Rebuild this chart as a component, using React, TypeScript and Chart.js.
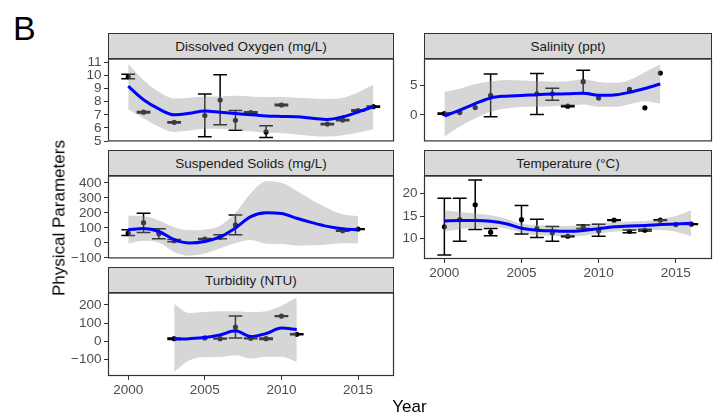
import React, { useEffect, useRef } from "react";
import { Chart, registerables } from "chart.js";

Chart.register(...registerables);

const FONT = '"Liberation Sans", Arial, Helvetica, sans-serif';

// ---------- shared x axis ----------
const X_TICKS = [2000, 2005, 2010, 2015];

// ---------- Dissolved Oxygen (mg/L) ----------
const doYears = [2000, 2001, 2003, 2005, 2006, 2007, 2008, 2009, 2010, 2013, 2014, 2015, 2016];
const doMean = [9.9, 7.2, 6.43, 6.95, 8.13, 6.58, 7.18, 5.7, 7.75, 6.3, 6.6, 7.33, 7.62];
const doLow = [9.75, 7.15, 6.38, 5.33, 6.25, 5.83, 7.12, 5.28, 7.7, 6.25, 6.55, 7.28, 7.57];
const doHigh = [10.08, 7.25, 6.48, 8.58, 10.05, 7.33, 7.24, 6.18, 7.8, 6.35, 6.65, 7.38, 7.67];
const doFitYears = [2000, 2001, 2002, 2003, 2004, 2005, 2006, 2007, 2008, 2009, 2010, 2011, 2012, 2013, 2014, 2015, 2016];
const doFit = [9.18, 8.15, 7.45, 7.0, 7.12, 7.3, 7.2, 7.1, 7.0, 6.92, 6.88, 6.85, 6.75, 6.65, 6.85, 7.22, 7.62];
const doUpper = [10.88, 9.63, 8.75, 8.25, 8.3, 8.4, 8.4, 8.45, 8.4, 8.35, 8.35, 8.3, 8.25, 8.2, 8.3, 8.7, 9.3];
const doLower = [7.4, 6.75, 6.1, 5.7, 5.8, 5.95, 5.95, 5.85, 5.75, 5.65, 5.6, 5.5, 5.4, 5.35, 5.45, 5.65, 5.9];
const doTicks = [5, 6, 7, 8, 9, 10, 11];

// ---------- Salinity (ppt) ----------
const salYears = [2000, 2001, 2002, 2003, 2006, 2007, 2008, 2009, 2010, 2012, 2013, 2014];
const salMean = [0.22, 0.38, 1.22, 3.28, 3.55, 3.55, 1.45, 5.6, 2.83, 4.28, 1.17, 7.05];
const salLow = [0.1, null, null, -0.33, 0.05, 2.45, 1.35, 3.67, null, null, null, null];
const salHigh = [0.3, null, null, 6.9, 7.0, 4.5, 1.55, 7.55, null, null, null, null];
const salFitYears = [2000, 2001, 2002, 2003, 2004, 2005, 2006, 2007, 2008, 2009, 2010, 2011, 2012, 2013, 2014];
const salFit = [-0.2, 0.8, 1.9, 2.85, 3.15, 3.25, 3.4, 3.5, 3.55, 3.65, 3.3, 3.35, 3.8, 4.45, 5.2];
const salUpper = [3.85, 4.4, 5.2, 5.65, 5.9, 5.8, 5.7, 5.6, 5.65, 6.0, 5.55, 5.4, 5.9, 7.2, 8.55];
const salLower = [-3.7, -2.0, -0.6, 0.5, 1.05, 1.3, 1.4, 1.45, 1.55, 1.75, 1.35, 1.35, 1.8, 2.3, 1.9];
const salTicks = [0, 5];

// ---------- Suspended Solids (mg/L) ----------
const ssYears = [2000, 2001, 2002, 2003, 2005, 2006, 2007, 2014, 2015];
const ssMean = [65, 135, 61, 15, 26, 37, 120, 81, 92];
const ssLow = [50, 70, 28, 8, 22, 28, 55, 78, 89];
const ssHigh = [88, 197, 94, 22, 30, 54, 186, 84, 95];
const ssFitYears = [2000, 2001, 2002, 2003, 2004, 2005, 2006, 2007, 2008, 2009, 2010, 2011, 2012, 2013, 2014, 2015];
const ssFit = [88, 96, 76, 22, 0, 10, 40, 100, 175, 200, 196, 164, 135, 110, 94, 87];
const ssUpper = [180, 178, 150, 105, 85, 90, 115, 200, 330, 410, 400, 345, 285, 230, 190, 178];
const ssLower = [-5, 14, 2, -60, -85, -70, -35, 0, 20, -5, -8, -17, -15, -10, -2, -4];
const ssTicks = [-100, 0, 100, 200, 300, 400];

// ---------- Temperature (°C) ----------
const tYears = [2000, 2001, 2002, 2003, 2005, 2006, 2007, 2008, 2009, 2010, 2011, 2012, 2013, 2014, 2015, 2016];
const tMean = [12.6, 14.2, 17.55, 11.4, 14.2, 12.2, 11.3, 10.5, 12.6, 11.7, 14.1, 11.6, 11.85, 14.1, 13.1, 13.2];
const tLow = [6.3, 9.4, 12.0, 10.6, 11.0, 10.2, 9.4, 10.4, 12.2, 10.5, 14.0, 11.3, 11.65, 14.0, null, 13.1];
const tHigh = [19.0, 19.0, 23.1, 12.2, 17.4, 14.3, 12.7, 10.6, 13.0, 13.2, 14.2, 11.9, 12.05, 14.2, null, 13.3];
const tFitYears = [2000, 2001, 2002, 2003, 2004, 2005, 2006, 2007, 2008, 2009, 2010, 2011, 2012, 2013, 2014, 2015, 2016];
const tFit = [13.9, 14.0, 14.0, 13.85, 13.3, 12.3, 11.85, 11.7, 11.6, 11.8, 12.2, 12.6, 12.8, 12.9, 13.1, 13.25, 13.4];
const tUpper = [16.3, 15.9, 15.6, 15.2, 14.4, 13.3, 13.0, 12.8, 12.8, 13.0, 13.3, 13.7, 13.8, 13.9, 14.3, 15.0, 16.3];
const tLower = [11.5, 12.1, 12.4, 12.5, 12.2, 11.3, 10.7, 10.6, 10.4, 10.6, 11.1, 11.5, 11.8, 11.9, 11.9, 11.5, 10.5];
const tTicks = [10, 15, 20];

// ---------- Turbidity (NTU) ----------
const tuYears = [2003, 2005, 2006, 2007, 2008, 2009, 2010, 2011];
const tuMean = [14, 18, 14, 78, 16, 14, 138, 38];
const tuLow = [10, null, 12, 18, 14, 10, 136, 35];
const tuHigh = [18, null, 16, 138, 18, 18, 140, 41];
const tuFitYears = [2003, 2004, 2005, 2006, 2007, 2008, 2009, 2010, 2011];
const tuFit = [12, 14, 20, 35, 57, 26, 42, 72, 64];
const tuUpper = [205, 155, 160, 165, 165, 160, 165, 195, 240];
const tuLower = [-168, -104, -86, -86, -77, -95, -85, -85, -113];
const tuTicks = [-100, 0, 100, 200];

// ---------- layout ----------
const X_MIN = 1998.68;
const X_MAX = 2017.35;
const COLS = [
  { left: 108, width: 286 },
  { left: 424, width: 288 },
];
const ROW_TOPS = [58, 175, 292];
const PANEL_H = 84;
const STRIP_H = 26;
const Y_AXIS_W = 60;
const CAP = 0.45;

type PanelDef = {
  title: string;
  col: number;
  row: number;
  years: number[];
  mean: number[];
  low: (number | null)[];
  high: (number | null)[];
  fitYears: number[];
  fit: number[];
  upper: number[];
  lower: number[];
  yMin: number;
  yMax: number;
  yTicks: number[];
  showX: boolean;
};

const PANELS: PanelDef[] = [
  { title: "Dissolved Oxygen (mg/L)", col: 0, row: 0, years: doYears, mean: doMean, low: doLow, high: doHigh, fitYears: doFitYears, fit: doFit, upper: doUpper, lower: doLower, yMin: 4.98, yMax: 11.28, yTicks: doTicks, showX: false },
  { title: "Salinity (ppt)", col: 1, row: 0, years: salYears, mean: salMean, low: salLow, high: salHigh, fitYears: salFitYears, fit: salFit, upper: salUpper, lower: salLower, yMin: -4.5, yMax: 9.5, yTicks: salTicks, showX: false },
  { title: "Suspended Solids (mg/L)", col: 0, row: 1, years: ssYears, mean: ssMean, low: ssLow, high: ssHigh, fitYears: ssFitYears, fit: ssFit, upper: ssUpper, lower: ssLower, yMin: -103, yMax: 448, yTicks: ssTicks, showX: false },
  { title: "Temperature (°C)", col: 1, row: 1, years: tYears, mean: tMean, low: tLow, high: tHigh, fitYears: tFitYears, fit: tFit, upper: tUpper, lower: tLower, yMin: 5.4, yMax: 24.07, yTicks: tTicks, showX: true },
  { title: "Turbidity (NTU)", col: 0, row: 2, years: tuYears, mean: tuMean, low: tuLow, high: tuHigh, fitYears: tuFitYears, fit: tuFit, upper: tuUpper, lower: tuLower, yMin: -191, yMax: 267, yTicks: tuTicks, showX: true },
];

const fmt = (v: number) => (v < 0 ? "\u2212" + Math.abs(v) : String(v));

function makePlugin(def: PanelDef) {
  return {
    id: "panelDecor",
    beforeDatasetDraw(chart: any, args: any) {
      if (args.index !== 0) return;
      const xs = chart.scales.x;
      const ys = chart.scales.y;
      const ctx = chart.ctx;
      ctx.save();
      ctx.strokeStyle = "#000";
      ctx.lineWidth = 1.5;
      def.years.forEach((yr, i) => {
        const lo = def.low[i];
        const hi = def.high[i];
        if (lo == null || hi == null) return;
        const xc = xs.getPixelForValue(yr);
        const xl = xs.getPixelForValue(yr - CAP);
        const xr = xs.getPixelForValue(yr + CAP);
        const yl = ys.getPixelForValue(lo);
        const yh = ys.getPixelForValue(hi);
        ctx.beginPath();
        ctx.moveTo(xc, yh);
        ctx.lineTo(xc, yl);
        ctx.moveTo(xl, yh);
        ctx.lineTo(xr, yh);
        ctx.moveTo(xl, yl);
        ctx.lineTo(xr, yl);
        ctx.stroke();
      });
      ctx.restore();
    },
    afterDraw(chart: any) {
      const a = chart.chartArea;
      const ctx = chart.ctx;
      ctx.save();
      ctx.strokeStyle = "#333333";
      ctx.lineWidth = 1.2;
      ctx.strokeRect(a.left + 0.5, a.top + 0.5, a.right - a.left - 1, a.bottom - a.top - 1);
      ctx.restore();
    },
  };
}

function Panel({ def }: { def: PanelDef }) {
  const ref = useRef<HTMLCanvasElement>(null);
  const col = COLS[def.col];
  const top = ROW_TOPS[def.row];
  const padT = 10;
  const padR = 12;
  const padB = def.showX ? 0 : 10;
  const xAxisH = def.showX ? 30 : 0;
  const cw = col.width + Y_AXIS_W + padR;
  const ch = PANEL_H + padT + padB + xAxisH;

  useEffect(() => {
    const tickFont = { family: FONT, size: 13.5 };
    const chart = new Chart(ref.current as HTMLCanvasElement, {
      type: "scatter",
      data: {
        datasets: [
          {
            type: "scatter",
            data: def.years.map((x, i) => ({ x, y: def.mean[i] })),
            pointRadius: 2.6,
            pointBackgroundColor: "#000",
            pointBorderWidth: 0,
            order: 3,
          } as any,
          {
            type: "line",
            data: def.fitYears.map((x, i) => ({ x, y: def.upper[i] })),
            borderColor: "rgba(0,0,0,0)",
            borderWidth: 0,
            pointRadius: 0,
            backgroundColor: "rgba(153,153,153,0.4)",
            fill: "+1",
            cubicInterpolationMode: "monotone",
            order: 2,
          } as any,
          {
            type: "line",
            data: def.fitYears.map((x, i) => ({ x, y: def.lower[i] })),
            borderColor: "rgba(0,0,0,0)",
            borderWidth: 0,
            pointRadius: 0,
            fill: false,
            cubicInterpolationMode: "monotone",
            order: 2,
          } as any,
          {
            type: "line",
            data: def.fitYears.map((x, i) => ({ x, y: def.fit[i] })),
            borderColor: "#0000ff",
            borderWidth: 3,
            pointRadius: 0,
            fill: false,
            cubicInterpolationMode: "monotone",
            order: 1,
          } as any,
        ],
      },
      options: {
        responsive: false,
        animation: false,
        events: [],
        layout: { padding: { top: padT, right: padR, bottom: padB, left: 0 }, autoPadding: false } as any,
        plugins: {
          legend: { display: false },
          tooltip: { enabled: false },
          filler: { drawTime: "beforeDatasetDraw" } as any,
        },
        scales: {
          x: {
            type: "linear",
            display: def.showX,
            min: X_MIN,
            max: X_MAX,
            afterBuildTicks: (s: any) => {
              s.ticks = X_TICKS.map((v) => ({ value: v }));
            },
            afterFit: (s: any) => {
              s.height = xAxisH;
            },
            grid: { drawOnChartArea: false, drawTicks: true, tickLength: 4, color: "#333333", lineWidth: 1 },
            border: { display: false },
            ticks: { color: "#4d4d4d", font: tickFont, padding: 2, maxRotation: 0, autoSkip: false, callback: (v: any) => fmt(Number(v)) },
          },
          y: {
            type: "linear",
            min: def.yMin,
            max: def.yMax,
            afterBuildTicks: (s: any) => {
              s.ticks = def.yTicks.map((v) => ({ value: v }));
            },
            afterFit: (s: any) => {
              s.width = Y_AXIS_W;
            },
            grid: { drawOnChartArea: false, drawTicks: true, tickLength: 4, color: "#333333", lineWidth: 1 },
            border: { display: false },
            ticks: { color: "#4d4d4d", font: tickFont, padding: 2.5, autoSkip: false, callback: (v: any) => fmt(Number(v)) },
          },
        },
      } as any,
      plugins: [makePlugin(def) as any],
    });
    return () => chart.destroy();
  }, []);

  return (
    <>
      <div
        style={{
          position: "absolute",
          left: col.left,
          top: top - STRIP_H + 1,
          width: col.width,
          height: STRIP_H,
          boxSizing: "border-box",
          background: "#d9d9d9",
          border: "1.2px solid #333333",
          color: "#1a1a1a",
          fontFamily: FONT,
          fontSize: 13.5,
          display: "flex",
          alignItems: "center",
          justifyContent: "center",
          whiteSpace: "nowrap",
        }}
      >
        {def.title}
      </div>
      <canvas
        ref={ref}
        width={cw}
        height={ch}
        style={{ position: "absolute", left: col.left - Y_AXIS_W, top: top - padT, width: cw, height: ch }}
      />
    </>
  );
}

export default function App() {
  return (
    <div
      style={{
        position: "absolute",
        left: 0,
        top: 0,
        width: 715,
        height: 414,
        background: "#ffffff",
        overflow: "hidden",
        fontFamily: FONT,
      }}
    >
      <div style={{ position: "absolute", left: 13, top: 10.5, fontSize: 34, lineHeight: "34px", color: "#000" }}>B</div>
      {PANELS.map((p) => (
        <Panel key={p.title} def={p} />
      ))}
      <div
        style={{
          position: "absolute",
          left: 58.5,
          top: 218,
          transform: "translate(-50%, -50%) rotate(-90deg)",
          fontSize: 17,
          lineHeight: "17px",
          whiteSpace: "nowrap",
          color: "#000",
        }}
      >
        Physical Parameters
      </div>
      <div
        style={{
          position: "absolute",
          left: 409.5,
          top: 397.5,
          transform: "translateX(-50%)",
          fontSize: 17,
          lineHeight: "17px",
          whiteSpace: "nowrap",
          color: "#000",
        }}
      >
        Year
      </div>
    </div>
  );
}
